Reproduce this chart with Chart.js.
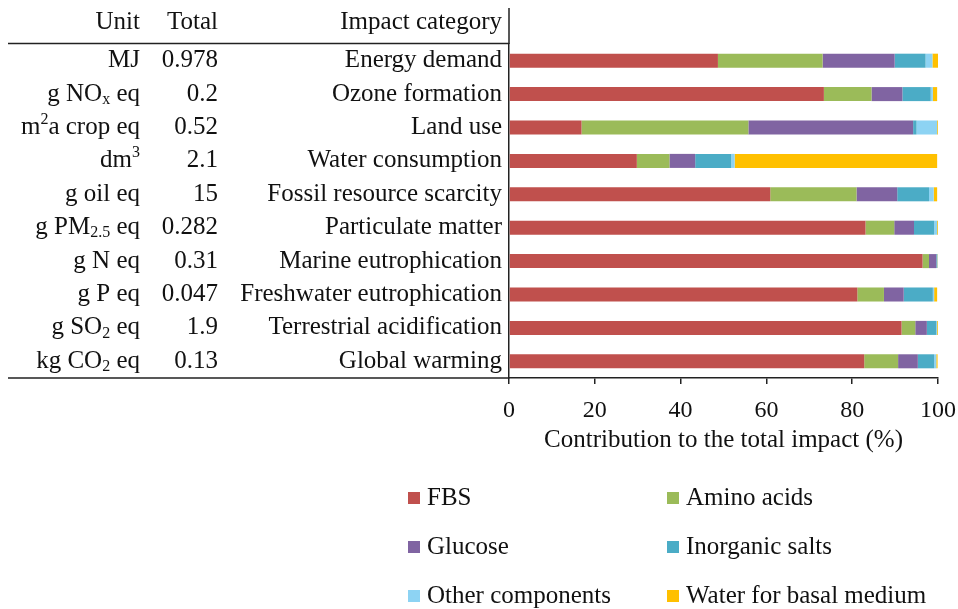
<!DOCTYPE html>
<html>
<head>
<meta charset="utf-8">
<script src="https://cdn.jsdelivr.net/npm/chart.js@4/dist/chart.umd.min.js"></script>
<style>
  html, body { margin: 0; padding: 0; background: #fff; }
  #wrap { width: 958px; height: 609px; position: relative; }
</style>
</head>
<body>
<div id="wrap"><canvas id="impactChart" width="958" height="609"></canvas></div>
<script>
// impact categories, top to bottom
const categories = [
  "Energy demand", "Ozone formation", "Land use", "Water consumption",
  "Fossil resource scarcity", "Particulate matter", "Marine eutrophication",
  "Freshwater eutrophication", "Terrestrial acidification", "Global warming"
];
// units: _{..} subscript, ^{..} superscript
const units = [
  "MJ", "g NO_{x} eq", "m^{2}a crop eq", "dm^{3}", "g oil eq",
  "g PM_{2.5} eq", "g N eq", "g P eq", "g SO_{2} eq", "kg CO_{2} eq"
];
const totals = ["0.978", "0.2", "0.52", "2.1", "15", "0.282", "0.31", "0.047", "1.9", "0.13"];

// contribution to the total impact (%)
const fbs        = [48.7, 73.4, 16.9, 29.8, 60.9, 83.1, 96.4, 81.2, 91.5, 82.8];
const aminoAcids = [24.4, 11.1, 38.9,  7.6, 20.1,  6.7,  1.5,  6.2,  3.2,  7.9];
const glucose    = [16.8,  7.2, 38.4,  6.0,  9.5,  4.6,  1.7,  4.6,  2.7,  4.6];
const inorganic  = [ 7.2,  6.6,  0.8,  8.4,  7.4,  4.7,  0.2,  6.8,  2.2,  3.8];
const otherComp  = [ 1.6,  0.5,  4.8,  0.8,  1.1,  0.7,  0.1,  0.3,  0.2,  0.5];
const waterBasal = [ 1.3,  1.0,  0.2, 47.2,  0.8,  0.2,  0.1,  0.7,  0.2,  0.3];

const xTicks = [0, 20, 40, 60, 80, 100];
const xTitle = "Contribution to the total impact (%)";

const FONT = "'Liberation Serif', 'Times New Roman', serif";
const series = [
  { label: "FBS", data: fbs, color: "#C0504D" },
  { label: "Amino acids", data: aminoAcids, color: "#9BBB59" },
  { label: "Glucose", data: glucose, color: "#8064A2" },
  { label: "Inorganic salts", data: inorganic, color: "#4BACC6" },
  { label: "Other components", data: otherComp, color: "#8DD3F3" },
  { label: "Water for basal medium", data: waterBasal, color: "#FFC000" }
];

// split "g NO_{x} eq" into runs of normal / sub / sup text
function parseRich(str) {
  const parts = [];
  const re = /([_^])\{([^}]*)\}/g;
  let last = 0, m;
  while ((m = re.exec(str)) !== null) {
    if (m.index > last) parts.push({ t: str.slice(last, m.index), k: "n" });
    parts.push({ t: m[2], k: m[1] === "_" ? "sub" : "sup" });
    last = re.lastIndex;
  }
  if (last < str.length) parts.push({ t: str.slice(last), k: "n" });
  return parts;
}

function drawRichRight(ctx, str, xRight, y, size) {
  const parts = parseRich(str);
  const small = Math.round(size * 0.65);
  let width = 0;
  parts.forEach(p => {
    ctx.font = `${p.k === "n" ? size : small}px ${FONT}`;
    p.w = ctx.measureText(p.t).width;
    width += p.w;
  });
  let x = xRight - width;
  ctx.textAlign = "left";
  parts.forEach(p => {
    ctx.font = `${p.k === "n" ? size : small}px ${FONT}`;
    let dy = 0;
    if (p.k === "sub") dy = size * 0.22;
    if (p.k === "sup") dy = -size * 0.32;
    ctx.fillText(p.t, x, y + dy);
    x += p.w;
  });
}

const tablePlugin = {
  id: "impactTable",
  afterDraw(chart) {
    const ctx = chart.ctx;
    const area = chart.chartArea;
    const yScale = chart.scales.y;
    const size = 25;
    ctx.save();
    ctx.fillStyle = "#111";
    ctx.textBaseline = "middle";

    // header
    ctx.font = `${size}px ${FONT}`;
    ctx.textAlign = "right";
    ctx.fillText("Unit", 140, 22);
    ctx.fillText("Total", 218, 22);
    ctx.fillText("Impact category", 502, 22);

    categories.forEach((cat, i) => {
      const y = yScale.getPixelForValue(i);
      ctx.font = `${size}px ${FONT}`;
      ctx.textAlign = "right";
      ctx.fillText(cat, 502, y);
      ctx.fillText(totals[i], 218, y);
      drawRichRight(ctx, units[i], 140, y, size);
    });

    // x axis title
    ctx.font = `${size}px ${FONT}`;
    ctx.textAlign = "center";
    ctx.fillText(xTitle, (area.left + area.right) / 2, 440);

    // table rules and the extended axis line
    ctx.strokeStyle = "#222";
    ctx.lineWidth = 1.5;
    ctx.beginPath();
    ctx.moveTo(8, 43.5); ctx.lineTo(area.left, 43.5);
    ctx.moveTo(8, area.bottom); ctx.lineTo(area.left, area.bottom);
    ctx.moveTo(area.left, 8); ctx.lineTo(area.left, area.top);
    ctx.stroke();

    // legend in two columns
    const cols = [408, 667];
    const rows = [498, 547, 596];
    series.forEach((s, i) => {
      const x = cols[i % 2];
      const y = rows[Math.floor(i / 2)];
      ctx.fillStyle = s.color;
      ctx.fillRect(x, y - 6, 12, 12);
      ctx.fillStyle = "#111";
      ctx.font = `${size}px ${FONT}`;
      ctx.textAlign = "left";
      ctx.fillText(s.label, x + 19, y);
    });
    ctx.restore();
  }
};

new Chart(document.getElementById("impactChart").getContext("2d"), {
  type: "bar",
  data: {
    labels: categories,
    datasets: series.map(s => ({
      label: s.label,
      data: s.data,
      backgroundColor: s.color,
      borderWidth: 0,
      barPercentage: 0.42,
      categoryPercentage: 1
    }))
  },
  options: {
    indexAxis: "y",
    responsive: false,
    animation: false,
    layout: { padding: { left: 509, top: 44, right: 20, bottom: 171 } },
    plugins: {
      legend: { display: false },
      tooltip: { enabled: false }
    },
    scales: {
      x: {
        stacked: true,
        min: 0,
        max: 100,
        afterBuildTicks: scale => { scale.ticks = xTicks.map(v => ({ value: v })); },
        afterFit: scale => { scale.paddingLeft = 0; scale.paddingRight = 0; },
        ticks: { color: "#111", font: { family: FONT, size: 24, lineHeight: 1 }, padding: 15, maxRotation: 0 },
        grid: { display: true, drawOnChartArea: false, drawTicks: true, tickLength: 6, color: "#222", lineWidth: 1.5 },
        border: { display: true, color: "#222", width: 1.5 },
        title: { display: false }
      },
      y: {
        stacked: true,
        afterFit: scale => { scale.width = 0; },
        ticks: { display: false },
        grid: { display: false },
        border: { display: true, color: "#222", width: 1.5 }
      }
    }
  },
  plugins: [tablePlugin]
});
</script>
</body>
</html>
